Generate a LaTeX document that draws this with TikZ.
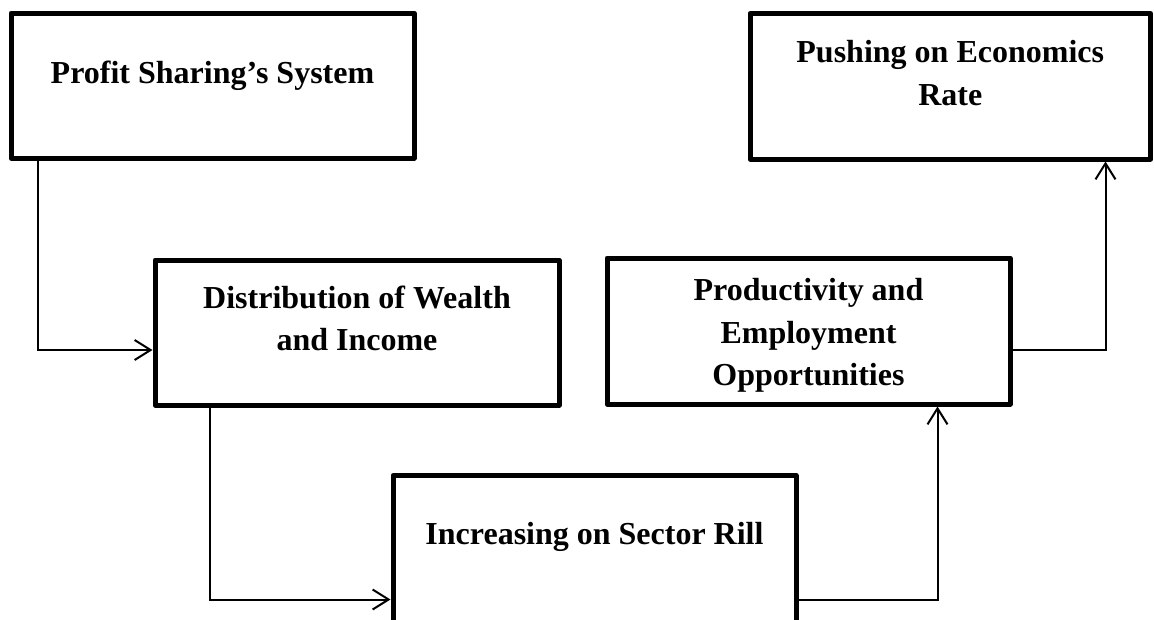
\documentclass[tikz,border=0pt]{standalone}
\usepackage{fontspec}
\setmainfont{Liberation Serif}
\usetikzlibrary{arrows.meta}
\begin{document}
\begin{tikzpicture}[x=1pt,y=-1pt,
  box/.style={draw, line width=5pt, line join=round, inner sep=0pt, fill=white},
  lbl/.style={anchor=north, inner sep=0pt, align=center,
    font={\fontsize{32}{42.5}\selectfont\bfseries}},
  arr/.style={line width=2pt, -{Straight Barb[length=16pt,width=20pt,line width=2pt]}}]
\useasboundingbox (0,0) rectangle (1154,619);
\fill[white] (0,0) rectangle (1154,619);
\clip (0,0) rectangle (1154,619);
% boxes
\node[box, minimum width=403pt, minimum height=145pt] (b1) at (212.5,85.5) {};
\node[box, minimum width=404pt, minimum height=145pt] (b2) at (357,332.5) {};
\node[box, minimum width=403pt, minimum height=152pt] (b3) at (594.5,551.5) {};
\node[box, minimum width=403pt, minimum height=146pt] (b4) at (808.5,331) {};
\node[box, minimum width=400.5pt, minimum height=145.5pt] (b5) at (950.25,86.25) {};
% texts
\node[lbl] (t1) at (212.5,60.5) {Profit Sharing’s System};
\node[lbl] (t2) at (357,285.5) {Distribution of Wealth\\and Income};
\node[lbl] (t3) at (594.5,522.5) {Increasing on Sector Rill};
\node[lbl] (t4) at (808.5,278.5) {Productivity and\\Employment\\Opportunities};
\node[lbl] (t5) at (950.25,40.5) {Pushing on Economics\\Rate};
% connectors
\draw[arr] ([xshift=29pt]b1.south west) |- ([yshift=-17.5pt]b2.west);
\draw[arr] ([xshift=57pt]b2.south west) |- ([yshift=-48pt]b3.west);
\draw[arr] ([yshift=-48pt]b3.east) -| ([xshift=333pt]b4.south west);
\draw[arr] ([yshift=-19pt]b4.east) -| ([xshift=358pt]b5.south west);
\end{tikzpicture}
\end{document}
